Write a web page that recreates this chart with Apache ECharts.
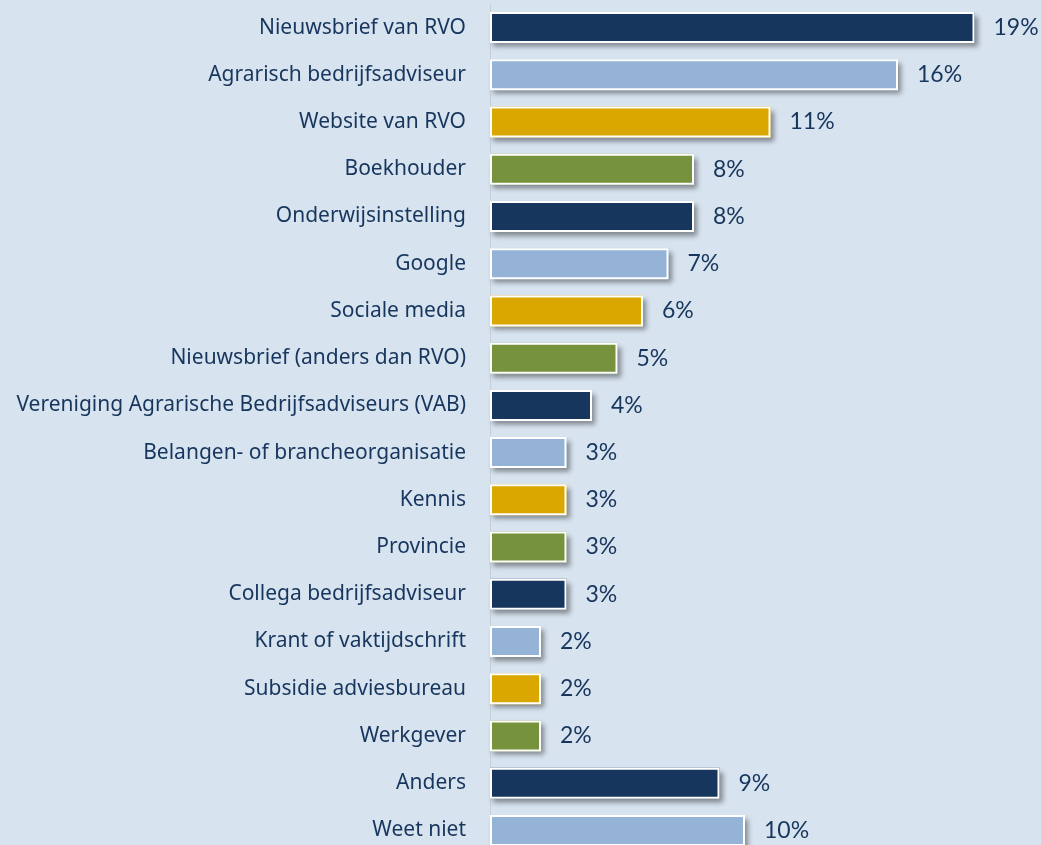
<!DOCTYPE html>
<html>
<head>
<meta charset="utf-8">
<script src="https://cdn.jsdelivr.net/npm/echarts@6/dist/echarts.min.js"></script>
<style>
  html, body { margin: 0; padding: 0; background: #d7e3ef; }
  #chart { width: 1041px; height: 845px; }
</style>
</head>
<body>
<div id="chart"></div>
<script>
const categories = [
  "Nieuwsbrief van RVO",
  "Agrarisch bedrijfsadviseur",
  "Website van RVO",
  "Boekhouder",
  "Onderwijsinstelling",
  "Google",
  "Sociale media",
  "Nieuwsbrief (anders dan RVO)",
  "Vereniging Agrarische Bedrijfsadviseurs (VAB)",
  "Belangen- of brancheorganisatie",
  "Kennis",
  "Provincie",
  "Collega bedrijfsadviseur",
  "Krant of vaktijdschrift",
  "Subsidie adviesbureau",
  "Werkgever",
  "Anders",
  "Weet niet"
];
const values = [19, 16, 11, 8, 8, 7, 6, 5, 4, 3, 3, 3, 3, 2, 2, 2, 9, 10];

const palette = ["#17365d", "#95b3d7", "#d9a700", "#76923c"];

const el = echarts.init(document.getElementById("chart"));

// colour per bar, repeating in groups of four
function coloured() {
  return values.map((v, i) => ({
    value: v,
    itemStyle: { color: palette[i % 4] }
  }));
}

const options = {
  backgroundColor: "#d7e3ef",
  animation: false,
  grid: {
    left: 490,
    width: 510,
    top: 4,
    height: 850,
    outerBoundsMode: "none",
    containLabel: false
  },
  xAxis: {
    type: "value",
    min: 0,
    max: 20,
    show: false
  },
  yAxis: {
    type: "category",
    data: categories,
    inverse: true,
    axisTick: { show: false },
    axisLine: { show: true, lineStyle: { color: "#c5cfd9", width: 1 } },
    axisLabel: {
      color: "#17365d",
      fontFamily: "Noto Sans",
      fontSize: 21,
      margin: 24
    }
  },
  series: [
    {
      // shadow layer underneath
      type: "bar",
      data: coloured(),
      barWidth: 31,
      silent: true,
      itemStyle: {
        shadowColor: "rgba(0,0,0,0.4)",
        shadowBlur: 5,
        shadowOffsetX: 3,
        shadowOffsetY: 4
      }
    },
    {
      type: "bar",
      data: coloured(),
      barWidth: 31,
      barGap: "-100%",
      itemStyle: {
        borderColor: "#ffffff",
        borderWidth: 2
      },
      label: {
        show: true,
        position: "right",
        distance: 19,
        formatter: "{c}%",
        color: "#17365d",
        fontFamily: "Lato",
        fontSize: 23
      }
    }
  ]
};

el.setOption(options);
</script>
</body>
</html>
